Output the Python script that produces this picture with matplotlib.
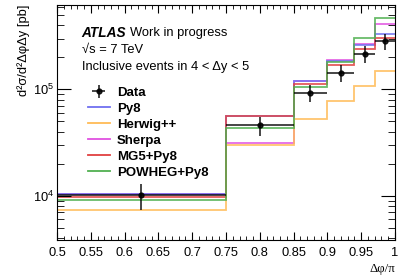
import numpy as np
import matplotlib
matplotlib.use('Agg')
import matplotlib.pyplot as plt
from matplotlib.ticker import MultipleLocator, LogLocator, NullFormatter
from matplotlib.lines import Line2D

plt.rcParams['font.family'] = ['Liberation Sans', 'DejaVu Sans']

# bin edges in dphi/pi
edges = [0.5, 0.75, 0.85, 0.9, 0.94, 0.97, 1.0]

data_y = [10100, 46100, 92700, 142800, 215100, 283600]
data_err = [2700, 9500, 17000, 25000, 39000, 50000]

py8 = [10450, 56800, 119700, 183300, 259000, 333500]
herwig = [7390, 30200, 52900, 77400, 107000, 150000]
sherpa = [10400, 31500, 119000, 187400, 267000, 412000]
mg5 = [9790, 56800, 112600, 170800, 238600, 303900]
powheg = [9130, 43500, 105100, 182200, 302600, 467700]

labels = ['Py8', 'Herwig++', 'Sherpa', 'MG5+Py8', 'POWHEG+Py8']
colors = ['#7070f0', '#ffbb55', '#e050e0', '#e04040', '#50b050']

fig = plt.figure(figsize=(4.07, 2.76), dpi=100)
ax = fig.add_axes([57/407, 36/276, 338/407, 235/276])

series = [py8, herwig, sherpa, mg5, powheg]
order = [2, 0, 1, 3, 4]
for i in order:
    ax.stairs(series[i], edges, color=colors[i], lw=1.3, alpha=0.85, baseline=None)

edges_a = np.array(edges)
centers = (edges_a[:-1] + edges_a[1:]) / 2
halfw = (edges_a[1:] - edges_a[:-1]) / 2
eb = ax.errorbar(centers, data_y, xerr=halfw, yerr=data_err, fmt='o', color='black',
                 ms=3.5, lw=1.2, elinewidth=1.2, capsize=0, alpha=0.85)

ax.set_yscale('log')
ax.set_xlim(0.5, 1.0)
ax.set_ylim(3850, 6.2e5)

ax.set_xticks(np.arange(0.5, 1.001, 0.05))
ax.set_xticklabels(['0.5', '0.55', '0.6', '0.65', '0.7', '0.75', '0.8', '0.85', '0.9', '0.95', '1'])
ax.xaxis.set_minor_locator(MultipleLocator(0.01))
ax.yaxis.set_major_locator(LogLocator(base=10, numticks=10))
ax.yaxis.set_minor_locator(LogLocator(base=10, subs=np.arange(2, 10), numticks=20))
ax.yaxis.set_minor_formatter(NullFormatter())

ax.tick_params(which='both', direction='in', top=True, right=True, labelsize=9.3)
ax.tick_params(axis='x', which='major', length=6, pad=5)
ax.tick_params(axis='x', which='minor', length=3)
ax.tick_params(axis='y', which='major', length=10, pad=2)
ax.tick_params(axis='y', which='minor', length=5)

ax.set_ylabel('d²σ/d²ΔφΔy [pb]', loc='top', fontsize=9.3, labelpad=2)
ax.set_xlabel('Δφ/π', loc='right', fontsize=9.3, family=['Liberation Serif', 'DejaVu Serif'], labelpad=3)

ax.text(0.073, 0.88, 'ATLAS', transform=ax.transAxes, fontsize=9.8,
        fontweight='bold', style='italic', va='center')
ax.text(0.216, 0.88, 'Work in progress', transform=ax.transAxes, fontsize=9.3, va='center')
ax.text(0.073, 0.809, '√s = 7 TeV', transform=ax.transAxes, fontsize=9.3, va='center')
ax.text(0.073, 0.737, 'Inclusive events in 4 < Δy < 5', transform=ax.transAxes,
        fontsize=9.3, va='center')

handles = [eb]
for i in range(5):
    handles.append(Line2D([], [], color=colors[i], lw=1.3))
leg = ax.legend(handles, ['Data'] + labels, loc='upper left', bbox_to_anchor=(0.075, 0.675),
                frameon=False, prop={'weight': 'bold', 'size': 9.5},
                handlelength=1.7, handletextpad=0.5, labelspacing=0.28, borderaxespad=0)

fig.savefig('out.png', dpi=100)
